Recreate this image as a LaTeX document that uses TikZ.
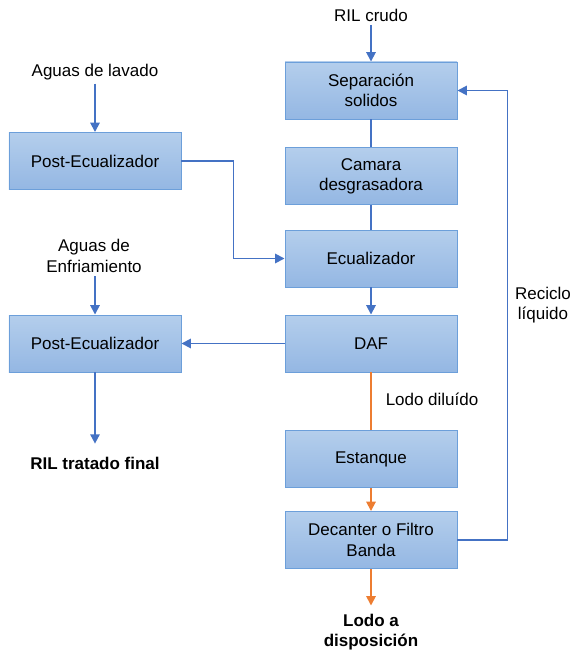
\documentclass[tikz,border=0pt]{standalone}
\usepackage{fontspec}
\setmainfont{Liberation Sans}
\usetikzlibrary{arrows.meta}
\definecolor{boxtop}{HTML}{B4CEEC}
\definecolor{boxbot}{HTML}{94B7E3}
\definecolor{boxline}{HTML}{6C9FDA}
\definecolor{flujo}{HTML}{4472C4}
\definecolor{lodo}{HTML}{ED7D31}
\tikzset{
  proceso/.style={draw=boxline, line width=0.8pt, top color=boxtop, bottom color=boxbot,
    minimum width=5.16cm, minimum height=1.71cm, align=center, inner sep=2pt},
  etiqueta/.style={align=center, inner sep=3pt},
  azul/.style={draw=flujo, line width=1.5pt},
  naranja/.style={draw=lodo, line width=1.5pt},
  flecha/.style={-{Triangle[width=8pt,length=8pt]}}
}
\begin{document}
\begin{tikzpicture}[x=0.03cm,y=-0.03cm,font=\fontsize{14.5}{17.3}\selectfont]
    \useasboundingbox (0,0) rectangle (571,650);
    % 主流程
    \node[proceso] (sep) at (371,90.5) {Separación\\solidos};
    \node[proceso] (cam) at (371,176) {Camara\\desgrasadora};
    \node[proceso] (ecu) at (371,258.5) {Ecualizador};
    \node[proceso] (daf) at (371,343.5) {DAF};
    \node[proceso] (est) at (371,459) {Estanque};
    \node[proceso] (dec) at (371,540) {Decanter o Filtro\\Banda};
    \node[proceso] (pe1) at (95,161) {Post-Ecualizador};
    \node[proceso] (pe2) at (95,343.5) {Post-Ecualizador};

    % 文字
    \node[etiqueta] (ril) at (371,15) {RIL crudo};
    \node[etiqueta] (lav) at (95,72) {Aguas de lavado};
    \node[etiqueta] (enf) at (94,256) {Aguas de\\Enfriamiento};
    \node[etiqueta] (fin) at (95,463) {\bfseries RIL tratado final};
    \node[etiqueta] (disp) at (371,632) {\bfseries Lodo a\\\bfseries disposición};
    \node[etiqueta, anchor=west] (dil) at (382,399) {Lodo diluído};
    \node[etiqueta] (rec) at (543,305) {Reciclo\\líquido};

    % 连线
    \draw[azul, flecha] (ril) -- (sep);
    \draw[azul] (sep) -- (cam);
    \draw[azul] (cam) -- (ecu);
    \draw[azul, flecha] (ecu) -- (daf);
    \draw[azul, flecha] (lav) -- (pe1);
    \draw[azul, flecha] (pe1.east) -- ++(52,0) |- (ecu.west);
    \draw[azul, flecha] (daf) -- (pe2);
    \draw[azul, flecha] (enf.south -| pe2.north) -- (pe2);
    \draw[azul, flecha] (pe2.south) -- ([yshift=8pt]fin.north);
    \draw[azul, flecha] (dec.east) -- ++(50,0) |- (sep.east);
    \draw[naranja] (daf) -- (est);
    \draw[naranja, flecha] (est) -- (dec);
    \draw[naranja, flecha] (dec.south) -- ([yshift=4pt]disp.north);
\end{tikzpicture}
\end{document}
